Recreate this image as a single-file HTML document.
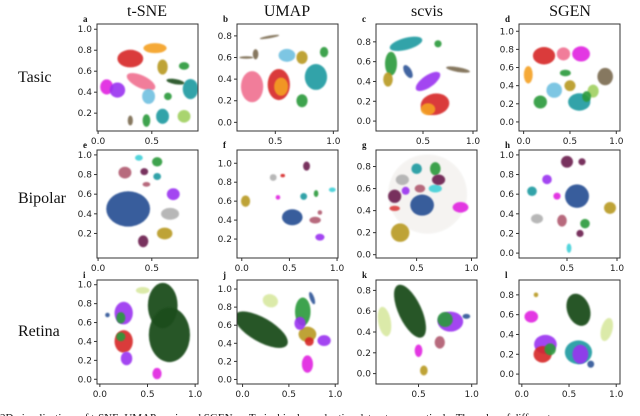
<!DOCTYPE html>
<html><head><meta charset="utf-8"><style>
body{margin:0;background:#fff;width:640px;height:416px;overflow:hidden;position:relative}
svg{position:absolute;left:0;top:0}
.tk{font-family:"DejaVu Sans","Liberation Sans",sans-serif;font-size:9px;fill:#222}
.ttl{font-family:"Liberation Serif",serif;font-size:16px;fill:#111}
.row{font-family:"Liberation Serif",serif;font-size:16px;fill:#111}
.lt{font-family:"Liberation Serif",serif;font-size:9px;font-weight:bold;fill:#111}
.cap{font-family:"Liberation Serif",serif;font-size:11px;fill:#111}
</style></head><body>
<svg id="fig" width="640" height="416">
<text class="ttl" x="147" y="16" text-anchor="middle">t-SNE</text>
<text class="ttl" x="287" y="16" text-anchor="middle">UMAP</text>
<text class="ttl" x="427" y="16" text-anchor="middle">scvis</text>
<text class="ttl" x="570" y="16" text-anchor="middle">SGEN</text>
<text class="row" x="18" y="82">Tasic</text>
<text class="row" x="18" y="203">Bipolar</text>
<text class="row" x="18" y="336">Retina</text>
<text class="cap" x="0" y="421">2D visualizations of t-SNE, UMAP, scvis and SGEN on Tasic, bipolar and retina datasets, respectively. The color of different</text>
</svg>
<script>
const letters=['a','b','c','d','e','f','g','h','i','j','k','l'];
const xlims=[[-0.01,0.93],[0.17,1.04],[0.03,1.04],[-0.05,1.04],[-0.01,0.93],[-0.05,1.01],[0.13,1.05],[0.02,1.03],[-0.03,1.03],[-0.06,1.03],[0.1,1.05],[-0.03,1.04]];
const ylims=[[0.03,1.05],[-0.08,0.91],[-0.1,0.98],[-0.1,1.08],[-0.05,1.05],[0.0,1.14],[-0.03,0.95],[-0.05,1.05],[-0.05,1.05],[-0.05,1.1],[-0.1,0.9],[-0.1,0.95]];
const xticks=[[0,0.5],[0.5,1.0],[0.5,1.0],[0,0.5,1.0],[0,0.5],[0,0.5,1.0],[0.5,1.0],[0.5,1.0],[0,0.5,1.0],[0,0.5,1.0],[0.5,1.0],[0,0.5,1.0]];
const yticks=[[0.2,0.4,0.6,0.8,1.0],[0,0.2,0.4,0.6,0.8],[0,0.2,0.4,0.6,0.8],[0,0.2,0.4,0.6,0.8,1.0],[0.2,0.4,0.6,0.8,1.0],[0.2,0.4,0.6,0.8,1.0],[0,0.2,0.4,0.6,0.8],[0,0.2,0.4,0.6,0.8,1.0],[0,0.2,0.4,0.6,0.8,1.0],[0,0.2,0.4,0.6,0.8,1.0],[0,0.2,0.4,0.6,0.8],[0,0.2,0.4,0.6,0.8]];
const palette=['#d62728','#f4a020','#f07090','#e020e0','#1a9aa0','#2a9a3a','#1b4d1b','#2f5597','#7a6a50','#9a30f0','#b0b0b0','#b89a20','#d8e8a0','#6a1b4d','#b05a70','#40d0d8','#70c0e0','#a0d060'];
// clusters: [x, y, rx, ry, colorIdx, rotationDeg, alpha]
const clustersA=[[0.3,0.72,0.1,0.07,0,0,0.9],[0.53,0.82,0.09,0.04,1,0,0.9],[0.4,0.5,0.12,0.05,2,-25,0.9],[0.08,0.45,0.05,0.06,3,0,0.9],[0.18,0.42,0.06,0.06,9,0,0.9],[0.6,0.64,0.04,0.06,11,0,0.9],[0.86,0.43,0.06,0.08,4,0,0.9],[0.6,0.17,0.05,0.06,4,0,0.9],[0.8,0.17,0.05,0.05,17,0,0.9],[0.45,0.13,0.03,0.05,5,0,0.9],[0.47,0.36,0.05,0.06,16,0,0.9],[0.3,0.13,0.02,0.04,8,0,0.9],[0.72,0.5,0.07,0.02,6,-10,0.9],[0.65,0.36,0.03,0.03,5,0,0.9],[0.8,0.65,0.04,0.03,5,0,0.9]];
const clustersB=[[0.3,0.33,0.08,0.12,2,0,0.9],[0.53,0.35,0.08,0.12,0,0,0.9],[0.55,0.33,0.05,0.07,1,0,0.9],[0.85,0.42,0.08,0.1,4,0,0.9],[0.6,0.62,0.06,0.05,16,0,0.9],[0.73,0.6,0.04,0.05,11,0,0.9],[0.73,0.2,0.04,0.05,5,0,0.9],[0.33,0.63,0.02,0.04,8,0,0.9],[0.25,0.6,0.05,0.01,8,0,0.9],[0.45,0.79,0.07,0.01,8,10,0.9],[0.92,0.65,0.03,0.04,5,0,0.9]];
const clustersC=[[0.33,0.78,0.14,0.05,4,15,0.9],[0.18,0.58,0.05,0.1,5,0,0.9],[0.15,0.42,0.04,0.06,11,0,0.9],[0.55,0.4,0.12,0.05,9,35,0.9],[0.62,0.17,0.12,0.09,0,10,0.9],[0.55,0.12,0.06,0.05,1,0,0.9],[0.65,0.78,0.03,0.03,5,0,0.9],[0.85,0.52,0.1,0.02,8,-10,0.9],[0.35,0.5,0.03,0.06,7,30,0.9]];
const clustersD=[[0.22,0.73,0.1,0.08,0,0,0.9],[0.05,0.52,0.04,0.08,1,0,0.9],[0.43,0.75,0.06,0.06,2,0,0.9],[0.62,0.75,0.08,0.07,3,0,0.9],[0.33,0.35,0.07,0.07,16,0,0.9],[0.5,0.4,0.05,0.05,11,0,0.9],[0.6,0.22,0.1,0.08,4,0,0.9],[0.75,0.34,0.05,0.06,17,0,0.9],[0.18,0.22,0.06,0.06,5,0,0.9],[0.88,0.5,0.07,0.08,8,0,0.9],[0.45,0.54,0.05,0.03,5,0,0.9],[0.68,0.28,0.04,0.05,5,0,0.9]];
const clustersE=[[0.28,0.45,0.17,0.15,7,0,0.95],[0.25,0.82,0.05,0.05,14,0,0.9],[0.38,0.97,0.03,0.025,15,0,0.9],[0.55,0.93,0.04,0.04,5,0,0.9],[0.43,0.83,0.03,0.03,13,0,0.9],[0.7,0.6,0.05,0.05,9,0,0.9],[0.67,0.4,0.07,0.05,10,0,0.9],[0.62,0.2,0.06,0.05,11,0,0.9],[0.42,0.12,0.04,0.05,13,0,0.9],[0.55,0.78,0.03,0.03,4,0,0.9],[0.45,0.7,0.03,0.02,14,0,0.9]];
const clustersF=[[0.53,0.43,0.09,0.07,7,0,0.95],[0.04,0.6,0.04,0.05,11,0,0.9],[0.33,0.85,0.03,0.03,10,0,0.9],[0.68,0.97,0.03,0.04,13,0,0.9],[0.82,0.22,0.04,0.03,9,0,0.9],[0.77,0.4,0.05,0.03,14,0,0.9],[0.43,0.87,0.02,0.015,0,0,0.9],[0.65,0.65,0.03,0.03,4,0,0.9],[0.78,0.68,0.02,0.03,5,0,0.9],[0.95,0.72,0.03,0.02,15,0,0.9],[0.82,0.48,0.02,0.02,14,0,0.9],[0.38,0.64,0.02,0.02,3,0,0.9]];
const clustersG=[[0.6,0.55,0.3,0.3,8,0,0.07],[0.55,0.45,0.09,0.08,7,0,0.95],[0.35,0.2,0.07,0.07,11,0,0.9],[0.37,0.68,0.05,0.04,10,0,0.9],[0.3,0.53,0.05,0.05,13,0,0.9],[0.67,0.78,0.04,0.05,5,0,0.9],[0.5,0.78,0.04,0.04,4,0,0.9],[0.4,0.58,0.03,0.03,9,0,0.9],[0.53,0.6,0.04,0.03,14,0,0.9],[0.67,0.6,0.05,0.03,15,0,0.9],[0.9,0.43,0.06,0.04,3,0,0.9],[0.7,0.68,0.05,0.04,13,0,0.9],[0.3,0.42,0.04,0.02,0,0,0.8]];
const clustersH=[[0.6,0.58,0.1,0.1,7,0,0.95],[0.93,0.46,0.05,0.05,11,0,0.9],[0.2,0.35,0.05,0.04,10,0,0.9],[0.5,0.93,0.05,0.05,13,0,0.9],[0.45,0.33,0.04,0.05,14,0,0.9],[0.68,0.3,0.04,0.04,5,0,0.9],[0.3,0.75,0.04,0.04,9,0,0.9],[0.15,0.63,0.04,0.04,4,0,0.9],[0.52,0.05,0.02,0.04,15,0,0.9],[0.63,0.2,0.03,0.03,13,0,0.9],[0.65,0.93,0.03,0.03,13,0,0.9],[0.4,0.58,0.03,0.03,3,0,0.9]];
const clustersI=[[0.66,0.78,0.13,0.2,6,0,0.95],[0.73,0.47,0.18,0.24,6,0,0.95],[0.45,0.94,0.06,0.03,12,0,0.9],[0.25,0.7,0.08,0.1,9,0,0.9],[0.25,0.4,0.08,0.1,0,0,0.9],[0.28,0.22,0.05,0.06,9,0,0.9],[0.6,0.06,0.04,0.05,3,0,0.9],[0.22,0.65,0.04,0.05,5,0,0.9],[0.08,0.68,0.02,0.02,7,0,0.9],[0.22,0.45,0.04,0.04,5,0,0.9]];
const clustersJ=[[0.2,0.55,0.27,0.11,6,-30,0.95],[0.3,0.87,0.07,0.06,12,-20,0.9],[0.65,0.75,0.07,0.13,5,0,0.9],[0.7,0.5,0.08,0.07,11,0,0.9],[0.72,0.42,0.04,0.04,0,0,0.9],[0.88,0.43,0.06,0.05,9,0,0.9],[0.7,0.17,0.05,0.08,3,0,0.9],[0.62,0.62,0.05,0.06,9,0,0.9],[0.75,0.9,0.02,0.06,7,20,0.9]];
const clustersK=[[0.42,0.6,0.09,0.23,6,25,0.95],[0.18,0.5,0.05,0.12,12,10,0.9],[0.8,0.5,0.1,0.08,9,0,0.9],[0.75,0.52,0.06,0.06,5,0,0.9],[0.5,0.22,0.03,0.05,3,0,0.9],[0.7,0.3,0.04,0.05,14,0,0.9],[0.55,0.03,0.03,0.04,11,0,0.9],[0.95,0.55,0.03,0.02,7,0,0.9]];
const clustersL=[[0.6,0.65,0.1,0.14,6,20,0.95],[0.9,0.45,0.05,0.1,12,-15,0.9],[0.1,0.58,0.06,0.05,3,0,0.9],[0.25,0.3,0.1,0.08,9,0,0.9],[0.22,0.2,0.08,0.07,0,0,0.9],[0.6,0.22,0.12,0.1,4,0,0.9],[0.62,0.2,0.07,0.08,9,0,0.9],[0.15,0.8,0.02,0.02,11,0,0.9],[0.73,0.1,0.03,0.03,7,0,0.9],[0.3,0.25,0.05,0.05,5,0,0.9]];
const clusters=[clustersA,clustersB,clustersC,clustersD,clustersE,clustersF,clustersG,clustersH,clustersI,clustersJ,clustersK,clustersL];

const colX=[[97,198],[237,338],[376,477],[519,620]];
const rowY=[[24,131],[150,258],[280,384]];
const NS='http://www.w3.org/2000/svg';
const svg=document.getElementById('fig');
function mk(tag,attrs,parent){const e=document.createElementNS(NS,tag);for(const k in attrs)e.setAttribute(k,attrs[k]);(parent||svg).appendChild(e);return e;}
const defs=mk('defs',{});
const f=mk('filter',{id:'blur',x:'-50%',y:'-50%',width:'200%',height:'200%'},defs);
mk('feGaussianBlur',{stdDeviation:'0.9'},f);
const grow=1.2;
for(let p=0;p<12;p++){
  const c=p%4,r=Math.floor(p/4);
  const [x0,x1]=colX[c],[y0,y1]=rowY[r];
  const xs=v=>x0+(v-xlims[p][0])/(xlims[p][1]-xlims[p][0])*(x1-x0);
  const ys=v=>y1-(v-ylims[p][0])/(ylims[p][1]-ylims[p][0])*(y1-y0);
  const g=mk('g',{});
  
  
  const cp=mk('clipPath',{id:'cp'+p},defs);mk('rect',{x:x0,y:y0,width:x1-x0,height:y1-y0},cp);
  const pg=mk('g',{'clip-path':'url(#cp'+p+')'},g);
  const sx=(x1-x0)/(xlims[p][1]-xlims[p][0]),sy=(y1-y0)/(ylims[p][1]-ylims[p][0]);
  clusters[p].forEach((cl,i)=>{
    const [cx,cy,rx,ry,ci,rot,al]=cl;
    const e=mk('ellipse',{cx:xs(cx),cy:ys(cy),rx:rx*sx*grow,ry:ry*sy*grow,fill:palette[ci],opacity:al,filter:'url(#blur)',transform:`rotate(${-rot} ${xs(cx)} ${ys(cy)})`},pg);
    
    
  });
  const box=mk('rect',{x:x0,y:y0,width:x1-x0,height:y1-y0,fill:'none',stroke:'#333','stroke-width':1},g);
  
  
  const lt=mk('text',{x:x0-14,y:y0-2,class:'lt'},g);lt.textContent=letters[p];
  
  
  xticks[p].forEach(v=>{const X=xs(v);mk('line',{x1:X,x2:X,y1:y1,y2:y1+3,stroke:'#333'},g);
    const t=mk('text',{x:X,y:y1+13,class:'tk','text-anchor':'middle'},g);t.textContent=v.toFixed(1);
    
    });
  yticks[p].forEach(v=>{const Y=ys(v);mk('line',{x1:x0-3,x2:x0,y1:Y,y2:Y,stroke:'#333'},g);
    const t=mk('text',{x:x0-5,y:Y+3,class:'tk','text-anchor':'end'},g);t.textContent=v.toFixed(1);
    
    });
}
</script>
</body></html>
